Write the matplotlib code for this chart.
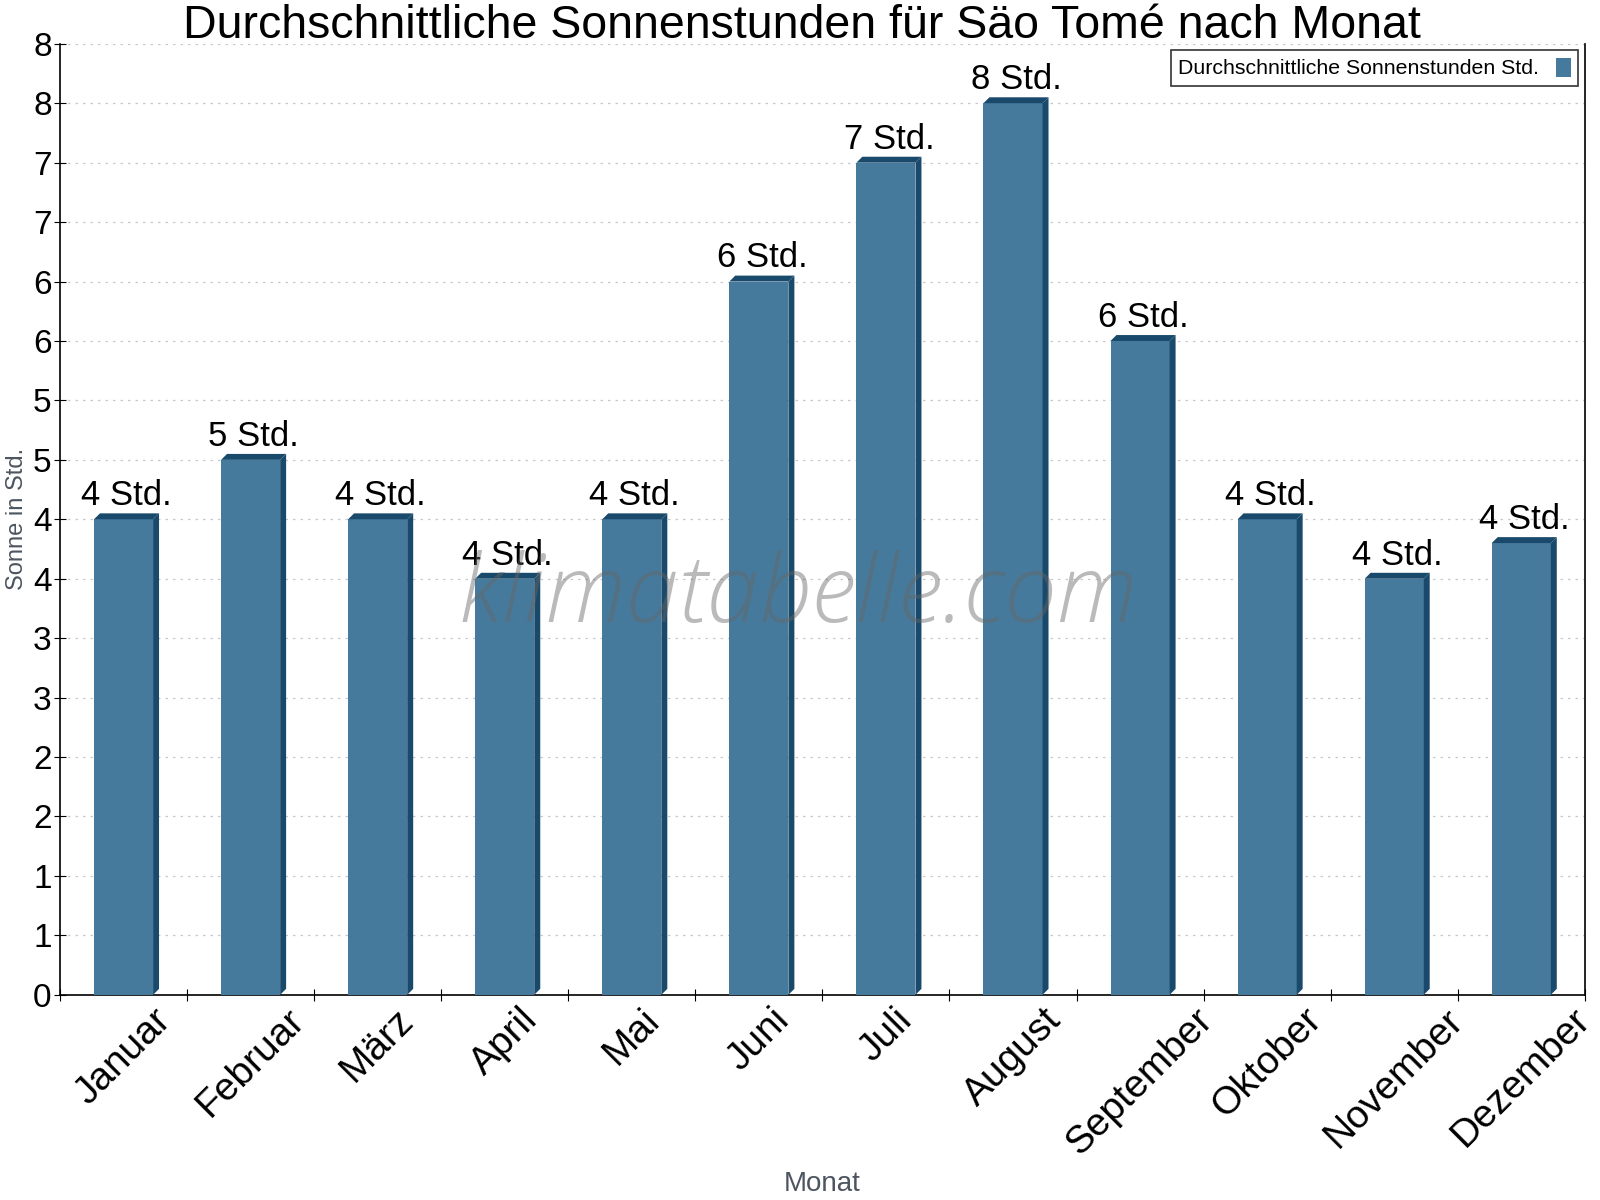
import matplotlib.pyplot as plt
from matplotlib.patches import Polygon
from matplotlib.ticker import FixedLocator, FuncFormatter
import math

months = ["Januar", "Februar", "März", "April", "Mai", "Juni", "Juli",
          "August", "September", "Oktober", "November", "Dezember"]
sun_hours = [4.0, 4.5, 4.0, 3.5, 4.0, 6.0, 7.0, 7.5, 5.5, 4.0, 3.5, 3.8]
bar_labels = ["4 Std.", "5 Std.", "4 Std.", "4 Std.", "4 Std.", "6 Std.",
              "7 Std.", "8 Std.", "6 Std.", "4 Std.", "4 Std.", "4 Std."]
y_ticks = [i * 0.5 for i in range(17)]

plt.rcParams['font.family'] = ['Liberation Sans', 'DejaVu Sans']

front = '#467a9c'
dark = '#1a4a6b'

fig = plt.figure(figsize=(16, 12), dpi=100)
ax = fig.add_axes([0.0375, 0.171, 0.953, 0.7925])

xs = [i + 0.5 for i in range(len(months))]
width = 0.465
dx = 0.047
dy = 0.05

ax.bar(xs, sun_hours, width=width, color=front, zorder=3, label="Durchschnittliche Sonnenstunden Std.")
for x, h, lab in zip(xs, sun_hours, bar_labels):
    x0 = x - width / 2
    x1 = x + width / 2
    top = Polygon([(x0, h), (x0 + dx, h + dy), (x1 + dx, h + dy), (x1, h)],
                  closed=True, color=dark, zorder=3, lw=0)
    side = Polygon([(x1, 0), (x1 + dx, dy), (x1 + dx, h + dy), (x1, h)],
                   closed=True, color=dark, zorder=3, lw=0)
    ax.add_patch(top)
    ax.add_patch(side)
    ax.text(x + dx / 2, h + dy + 0.01, lab, ha='center', va='bottom', fontsize=25, zorder=5)

ax.set_xlim(0, 12)
ax.set_ylim(0, 8)

ax.xaxis.set_major_locator(FixedLocator(range(13)))
ax.xaxis.set_minor_locator(FixedLocator(xs))
ax.set_xticklabels([])
ax.set_xticklabels(months, minor=True, rotation=45, ha='center', fontsize=28)
ax.tick_params(axis='x', which='minor', length=0, pad=5)
ax.tick_params(axis='x', which='major', length=8, direction='inout')

ax.yaxis.set_major_locator(FixedLocator(y_ticks))
ax.yaxis.set_major_formatter(FuncFormatter(lambda v, p: "%d" % math.floor(v + 0.5)))
ax.tick_params(axis='y', labelsize=24, length=8, direction='inout', pad=2)

ax.grid(axis='y', linestyle=(0, (2, 4)), color='#c8c8c8', lw=0.9, zorder=0)
ax.spines['top'].set_visible(False)
for s in ['left', 'bottom', 'right']:
    ax.spines[s].set_linewidth(1.2)

fig.text(0.5015, 0.978, "Durchschnittliche Sonnenstunden für Säo Tomé nach Monat",
         fontsize=33.5, ha='center', va='center')
ax.set_xlabel("Monat", fontsize=20, color='#4d5560')
ax.xaxis.set_label_coords(0.5, -0.185)
ax.set_ylabel("Sonne in Std.", fontsize=17, color='#4d5560')
ax.yaxis.set_label_coords(-0.021, 0.5)

ax.text(0.484, 0.418, "klimatabelle.com", transform=ax.transAxes, fontsize=68,
        family=['Open Sans', 'Lato', 'DejaVu Sans'], weight='light',
        style='italic', color='#666666', alpha=0.45, ha='center', va='center', zorder=6)

leg = ax.legend(loc='upper right', fontsize=15.3, markerfirst=False, frameon=True,
                fancybox=False, edgecolor='black', handlelength=0.7, handleheight=1.0,
                borderaxespad=0.3, borderpad=0.35)
leg.get_frame().set_linewidth(1.2)

fig.savefig("out.png", dpi=100)
